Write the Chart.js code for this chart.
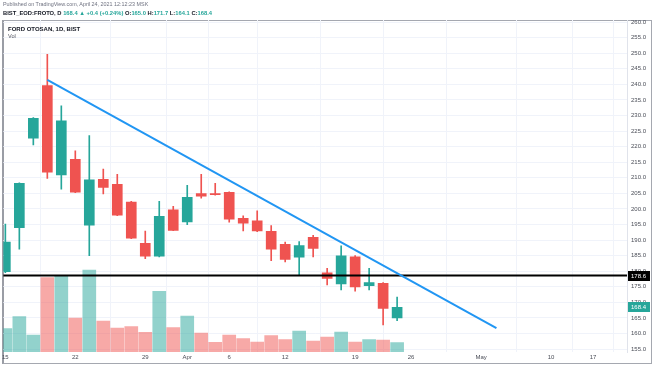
<!DOCTYPE html>
<html lang="en">
<head>
    <meta charset="UTF-8">
    <title>FORD OTOSAN, 1D, BIST</title>

    <!-- Chart.js -->
    <script src="https://cdn.jsdelivr.net/npm/chart.js"></script>

    <style>
        body {
            margin: 0;
            background-color: #ffffff;
            font-family: "Liberation Sans", Arial, sans-serif;
        }
        #wrap {
            position: relative;
            width: 654px;
            height: 366px;
        }
        #frame {
            position: absolute;
            left: 2px;
            top: 20px;
            width: 650px;
            height: 344px;
            box-sizing: border-box;
            border: 1px solid #a5a8b0;
            border-left: 2px solid #9a9da5;
        }
        #priceChart {
            position: absolute;
            left: 0;
            top: 0;
        }
        .txt {
            position: absolute;
            white-space: nowrap;
            line-height: 1;
        }
        .pub { left: 3px; top: 2px; font-size: 5.4px; color: #6f7280; }
        .sym { left: 3px; top: 11px; font-size: 5.8px; color: #131722; font-weight: bold; }
        .sym .up { color: #26a69a; }
        .name { left: 8px; top: 26px; font-size: 6px; color: #131722; font-weight: bold; }
        .vol { left: 8px; top: 34px; font-size: 5.6px; color: #50535e; }
    </style>
</head>
<body>

<div id="wrap">
    <div id="frame"></div>
    <canvas id="priceChart" width="654" height="366"></canvas>
    <div class="txt pub">Published on TradingView.com, April 24, 2021 12:12:23 MSK</div>
    <div class="txt sym">BIST_EOD:FROTO, D <span class="up">168.4 &#9650; +0.4 (+0.24%)</span> O:<span class="up">165.0</span> H:<span class="up">171.7</span> L:<span class="up">164.1</span> C:<span class="up">168.4</span></div>
    <div class="txt name">FORD OTOSAN, 1D, BIST</div>
    <div class="txt vol">Vol</div>
</div>

<script>
    // trading days, Mar 15 - Apr 22 2021
    const days = ['03-15', '03-16', '03-17', '03-18', '03-19', '03-22', '03-23', '03-24', '03-25', '03-26',
                  '03-29', '03-30', '03-31', '04-01', '04-02', '04-05', '04-06', '04-07', '04-08', '04-09',
                  '04-12', '04-13', '04-14', '04-15', '04-16', '04-19', '04-20', '04-21', '04-22'];

    const opens  = [179.8, 194.0, 222.7, 239.6, 210.9, 215.9, 194.8, 209.5, 207.9, 202.2,
                    188.9, 184.8, 199.7, 195.8, 204.9, 204.9, 205.3, 197.0, 196.2, 192.8,
                    188.6, 184.5, 190.9, 179.5, 175.9, 184.6, 175.3, 176.1, 165.0];
    const highs  = [195.1, 208.4, 229.3, 249.6, 233.1, 218.6, 223.5, 212.8, 211.1, 202.4,
                    192.9, 202.4, 200.8, 207.6, 211.1, 208.2, 205.5, 197.8, 199.4, 194.6,
                    189.3, 189.5, 191.5, 180.9, 188.1, 185.0, 180.9, 176.3, 171.7];
    const lows   = [179.5, 187.1, 220.5, 209.8, 206.3, 205.2, 185.0, 204.8, 197.8, 190.4,
                    184.0, 184.6, 193.0, 194.9, 203.4, 204.4, 195.7, 192.9, 192.7, 183.4,
                    183.0, 178.8, 184.6, 175.6, 174.0, 173.6, 174.0, 162.7, 164.1];
    const closes = [189.3, 208.2, 229.1, 211.8, 228.3, 205.4, 209.3, 206.9, 198.0, 190.6,
                    184.8, 197.6, 193.1, 203.7, 204.1, 204.6, 196.7, 195.4, 192.9, 187.1,
                    183.8, 188.2, 187.3, 177.7, 184.9, 174.9, 176.3, 168.0, 168.4];
    // volume, millions of shares
    const volumes = [0.95, 1.43, 0.68, 3.00, 3.08, 1.37, 3.31, 1.25, 0.97, 1.03,
                     0.79, 2.45, 0.99, 1.45, 0.76, 0.39, 0.68, 0.54, 0.40, 0.66,
                     0.50, 0.84, 0.44, 0.60, 0.80, 0.40, 0.50, 0.48, 0.38];

    // date axis (bar index incl. future days) and price axis
    const tickIdx  = [0, 5, 10, 13, 16, 20, 25, 29, 34, 39, 42];
    const tickText = ['15', '22', '29', 'Apr', '6', '12', '19', '26', 'May', '10', '17'];
    const priceTicks = [155, 160, 165, 170, 175, 180, 185, 190, 195, 200, 205, 210,
                        215, 220, 225, 230, 235, 240, 245, 250, 255, 260];

    // drawings
    const trendX = [3, 35.1];
    const trendY = [241.4, 161.7];
    const levelY = 178.6;
    const lastClose = 168.4;

    const UP = '#26a69a';
    const DOWN = '#ef5350';
    const isUp = opens.map((o, i) => closes[i] >= o);
    const candleColors = isUp.map(u => u ? UP : DOWN);
    const volColors = isUp.map(u => u ? 'rgba(38,166,154,0.5)' : 'rgba(239,83,80,0.5)');

    // boxes on the price scale
    const priceTags = {
        id: 'priceTags',
        afterDraw(chart) {
            const { ctx, chartArea, scales: { y } } = chart;
            const tags = [[levelY, '#000000'], [lastClose, UP]];
            ctx.save();
            ctx.font = '6px "Liberation Sans", Arial, sans-serif';
            ctx.textBaseline = 'middle';
            tags.forEach(([v, col]) => {
                const py = Math.round(y.getPixelForValue(v));
                ctx.fillStyle = col;
                ctx.fillRect(chartArea.right + 1, py - 5, 22, 10);
                ctx.fillStyle = '#ffffff';
                ctx.fillText(v.toFixed(1), chartArea.right + 4, py + 0.5);
            });
            ctx.restore();
        }
    };

    const ctx = document.getElementById('priceChart').getContext('2d');
    const priceChart = new Chart(ctx, {
        type: 'bar',
        data: {
            datasets: [
                {
                    type: 'line',
                    label: 'Trend',
                    data: trendX.map((x, i) => ({ x: x, y: trendY[i] })),
                    borderColor: '#2196f3',
                    borderWidth: 2,
                    pointRadius: 0,
                    order: 0
                },
                {
                    type: 'line',
                    label: 'Level',
                    data: [{ x: -5, y: levelY }, { x: 50, y: levelY }],
                    borderColor: '#000000',
                    borderWidth: 2,
                    pointRadius: 0,
                    order: 1
                },
                {
                    label: 'Body',
                    data: days.map((d, i) => ({ x: i, y: [opens[i], closes[i]] })),
                    backgroundColor: candleColors,
                    barThickness: 10,
                    minBarLength: 1,
                    grouped: false,
                    order: 2
                },
                {
                    label: 'Wick',
                    data: days.map((d, i) => ({ x: i, y: [lows[i], highs[i]] })),
                    backgroundColor: candleColors,
                    barThickness: 1,
                    grouped: false,
                    order: 3
                },
                {
                    label: 'Vol',
                    data: days.map((d, i) => ({ x: i, y: volumes[i] })),
                    backgroundColor: volColors,
                    barThickness: 13,
                    grouped: false,
                    yAxisID: 'yv',
                    order: 4
                }
            ]
        },
        options: {
            responsive: false,
            animation: false,
            events: [],
            layout: { padding: { left: 3, top: 20, right: 4, bottom: 3 } },
            plugins: {
                legend: { display: false },
                tooltip: { enabled: false }
            },
            scales: {
                x: {
                    type: 'linear',
                    min: -0.143,
                    max: 44.43,
                    offset: false,
                    afterBuildTicks: s => { s.ticks = tickIdx.map(v => ({ value: v })); },
                    afterFit: s => { s.height = 11; },
                    ticks: {
                        callback: v => tickText[tickIdx.indexOf(v)],
                        autoSkip: false,
                        maxRotation: 0,
                        padding: 2,
                        color: '#4a4d57',
                        font: { size: 6, family: '"Liberation Sans", Arial, sans-serif' }
                    },
                    grid: { color: '#f0f3fa', drawTicks: false },
                    border: { display: false }
                },
                y: {
                    position: 'right',
                    min: 154.04,
                    max: 260.65,
                    afterBuildTicks: s => { s.ticks = priceTicks.map(v => ({ value: v })); },
                    afterFit: s => { s.width = 23; },
                    ticks: {
                        callback: v => v.toFixed(1),
                        autoSkip: false,
                        padding: 4,
                        color: '#4a4d57',
                        font: { size: 6, family: '"Liberation Sans", Arial, sans-serif' }
                    },
                    grid: { color: '#f0f3fa', drawTicks: false },
                    border: { display: true, color: '#e0e3eb' }
                },
                yv: {
                    display: false,
                    min: 0,
                    max: 13.4
                }
            }
        },
        plugins: [priceTags]
    });
</script>

</body>
</html>
